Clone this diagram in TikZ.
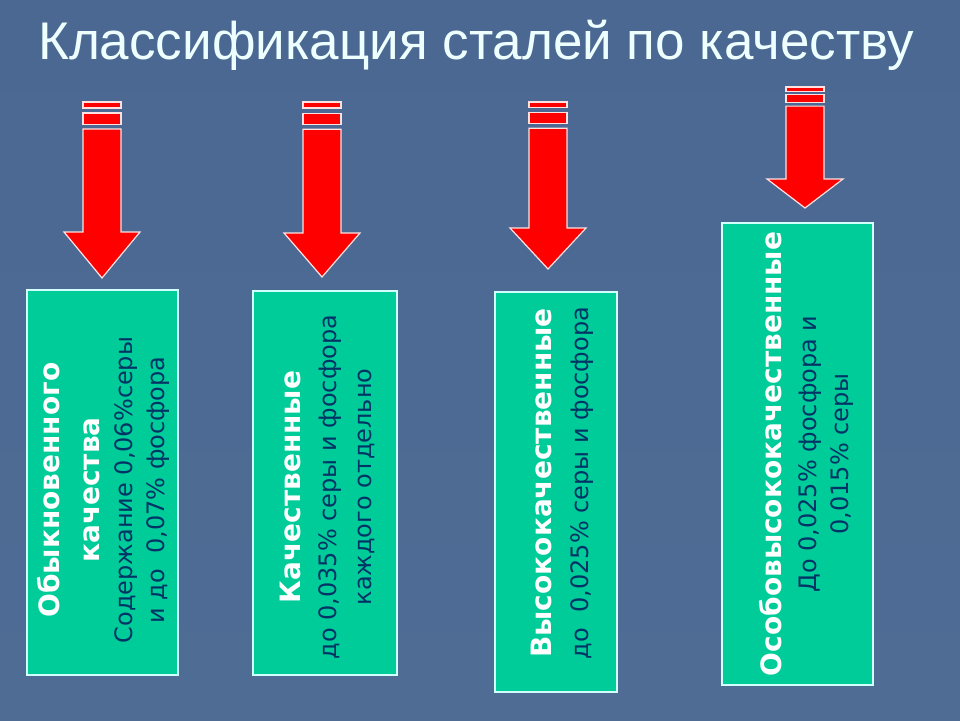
\documentclass[tikz,border=0pt]{standalone}
\usepackage{fontspec}
\setmainfont{DejaVu Sans}
\newfontfamily\headfont{Liberation Sans}
\usetikzlibrary{calc}
\definecolor{slatetop}{RGB}{74,104,146}
\definecolor{slatemid}{RGB}{86,114,152}
\definecolor{slatebot}{RGB}{78,108,148}
\definecolor{boxfill}{RGB}{0,204,153}
\definecolor{boxedge}{RGB}{210,255,255}
\definecolor{notecolor}{RGB}{0,51,102}
\definecolor{arrowred}{RGB}{255,0,0}
\definecolor{arrowedge}{RGB}{255,225,225}
\definecolor{titlewhite}{RGB}{238,255,255}
\tikzset{
  gradebox/.style={rectangle,draw=boxedge,fill=boxfill,line width=1.5pt,inner sep=0pt},
  gradetext/.style={rotate=90,align=center,text=notecolor,inner sep=0pt,
    font=\fontsize{24}{32}\selectfont},
  arrowpart/.style={fill=arrowred,draw=arrowedge,line width=1.2pt,line join=miter},
}
\newcommand\boldline[1]{{\bfseries\fontsize{28}{32}\selectfont\color{white}#1}}
% x, top of bars, base of head, tip
\newcommand\redarrow[4]{%
  \pgfmathsetmacro\arrlen{#3-#2}
  \draw[arrowpart] (#1-19,#2) rectangle (#1+19,#2+0.046*\arrlen);
  \draw[arrowpart] (#1-19,#2+0.085*\arrlen) rectangle (#1+19,#2+0.17*\arrlen);
  \draw[arrowpart] (#1-19,#2+0.208*\arrlen) -- (#1+19,#2+0.208*\arrlen) -- (#1+19,#3)
    -- (#1+38,#3) -- (#1,#4) -- (#1-38,#3) -- (#1-19,#3) -- cycle;
}

\begin{document}
\begin{tikzpicture}[x=1pt,y=-1pt]
  \useasboundingbox (0,0) rectangle (960,720);
  \shade[top color=slatetop,middle color=slatemid,bottom color=slatebot] (0,0) rectangle (960,720);

  \node[anchor=base west,text=titlewhite,inner sep=0pt,
    font=\headfont\fontsize{53}{60}\selectfont] (title) at (38,59) {Классификация сталей по качеству};

  \redarrow{102}{102}{232}{278}
  \redarrow{322}{102}{233}{277}
  \redarrow{548}{102}{228}{269}
  \redarrow{805}{87}{179}{208}

  \node[gradebox,minimum width=151pt,minimum height=385pt] (b1) at (102.5,482.5) {};
  \node[gradebox,minimum width=144pt,minimum height=384pt] (b2) at (325,483) {};
  \node[gradebox,minimum width=122pt,minimum height=400pt] (b3) at (556,492) {};
  \node[gradebox,minimum width=151pt,minimum height=462pt] (b4) at (797.5,454) {};

  \node[gradetext] (t1) at (103.5,490) {\boldline{Обыкновенного}\\[8pt]\boldline{качества}\\[1pt]Содержание 0,06\%серы\\и до\ \ 0,07\% фосфора};
  \node[gradetext] (t2) at (327.5,487) {\boldline{Качественные}\\[4pt]до 0,035\% серы и фосфора\\[3pt]каждого отдельно};
  \node[gradetext] (t3) at (562,483) {\boldline{Высококачественные}\\[5pt]до\ \ 0,025\% серы и фосфора};
  \node[gradetext] (t4) at (806,454) {\boldline{Особовысококачественные}\\[3pt]До 0,025\% фосфора и\\0,015\% серы};
\end{tikzpicture}
\end{document}
